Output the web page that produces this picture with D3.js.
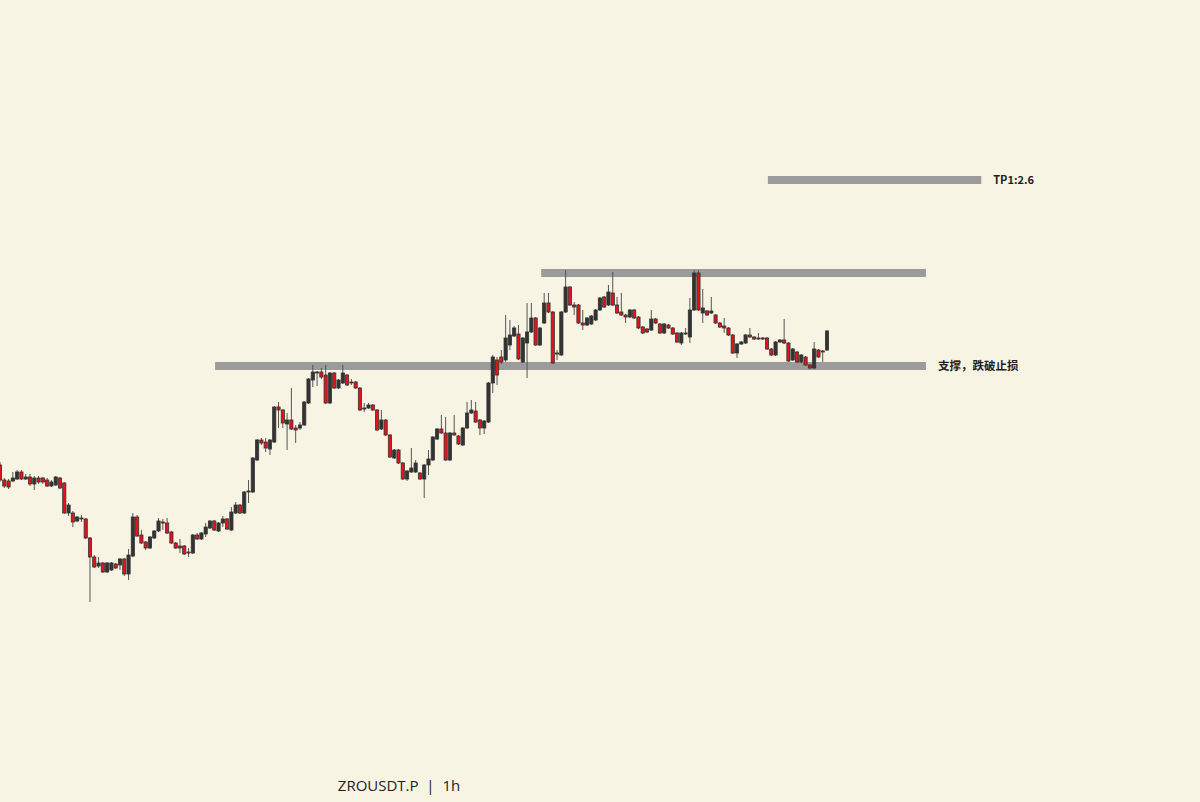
<!DOCTYPE html>
<html>
<head>
<meta charset="utf-8">
<script src="https://cdn.jsdelivr.net/npm/d3@7"></script>
<style>
  html, body { margin: 0; padding: 0; background: #f7f4e3; }
  svg { display: block; }
</style>
</head>
<body>
<svg id="chart"></svg>
<script>
// ZROUSDT.P 1h candles
const opens = [
  2.030, 2.000, 1.998, 1.998, 2.002, 2.016, 2.002, 2.006, 1.992, 2.004,
  2.004, 2.000, 1.988, 1.990, 2.004, 1.994, 1.934, 1.934, 1.918, 1.924,
  1.922, 1.884, 1.846, 1.828, 1.834, 1.816, 1.820, 1.832, 1.830, 1.842,
  1.812, 1.848, 1.926, 1.890, 1.876, 1.864, 1.884, 1.898, 1.916, 1.914,
  1.896, 1.874, 1.868, 1.868, 1.856, 1.854, 1.890, 1.882, 1.892, 1.904,
  1.918, 1.898, 1.914, 1.922, 1.900, 1.934, 1.950, 1.934, 1.976, 1.976,
  2.040, 2.080, 2.076, 2.062, 2.076, 2.146, 2.140, 2.112, 2.120, 2.104,
  2.104, 2.110, 2.154, 2.200, 2.216, 2.216, 2.210, 2.154, 2.214, 2.184,
  2.194, 2.210, 2.196, 2.196, 2.184, 2.144, 2.144, 2.150, 2.140, 2.102,
  2.120, 2.090, 2.044, 2.060, 2.034, 2.002, 2.016, 2.016, 2.014, 2.002,
  2.030, 2.040, 2.082, 2.102, 2.094, 2.040, 2.094, 2.088, 2.070, 2.104,
  2.134, 2.138, 2.120, 2.104, 2.116, 2.194, 2.240, 2.246, 2.240, 2.270,
  2.288, 2.292, 2.236, 2.274, 2.296, 2.324, 2.270, 2.314, 2.354, 2.336,
  2.254, 2.250, 2.336, 2.386, 2.350, 2.350, 2.314, 2.310, 2.312, 2.320,
  2.340, 2.366, 2.350, 2.374, 2.350, 2.336, 2.330, 2.326, 2.340, 2.326,
  2.306, 2.302, 2.300, 2.322, 2.312, 2.294, 2.310, 2.304, 2.294, 2.274,
  2.294, 2.286, 2.340, 2.414, 2.334, 2.338, 2.334, 2.330, 2.314, 2.308,
  2.304, 2.290, 2.254, 2.272, 2.274, 2.290, 2.286, 2.284, 2.284, 2.284,
  2.262, 2.250, 2.276, 2.280, 2.274, 2.240, 2.256, 2.236, 2.246, 2.230,
  2.224, 2.260, 2.258, 2.260
];
const highs = [
  2.036, 2.004, 2.002, 2.016, 2.020, 2.020, 2.012, 2.012, 2.008, 2.008,
  2.006, 2.004, 2.000, 2.008, 2.006, 1.996, 1.954, 1.938, 1.928, 1.930,
  1.924, 1.886, 1.850, 1.846, 1.836, 1.836, 1.836, 1.834, 1.844, 1.844,
  1.862, 1.934, 1.930, 1.900, 1.878, 1.888, 1.900, 1.924, 1.922, 1.924,
  1.898, 1.876, 1.882, 1.870, 1.864, 1.892, 1.894, 1.896, 1.914, 1.920,
  1.920, 1.916, 1.928, 1.924, 1.946, 1.956, 1.952, 1.978, 2.000, 2.046,
  2.082, 2.084, 2.084, 2.082, 2.148, 2.156, 2.142, 2.134, 2.184, 2.110,
  2.116, 2.158, 2.204, 2.230, 2.218, 2.224, 2.230, 2.216, 2.216, 2.202,
  2.230, 2.212, 2.202, 2.198, 2.186, 2.154, 2.154, 2.152, 2.142, 2.140,
  2.122, 2.092, 2.062, 2.062, 2.036, 2.020, 2.064, 2.040, 2.016, 2.032,
  2.060, 2.088, 2.104, 2.130, 2.126, 2.096, 2.130, 2.090, 2.106, 2.156,
  2.160, 2.156, 2.122, 2.120, 2.196, 2.250, 2.246, 2.260, 2.330, 2.320,
  2.308, 2.310, 2.286, 2.354, 2.354, 2.326, 2.306, 2.374, 2.374, 2.338,
  2.260, 2.338, 2.420, 2.388, 2.356, 2.352, 2.340, 2.326, 2.330, 2.342,
  2.366, 2.368, 2.390, 2.416, 2.366, 2.374, 2.332, 2.342, 2.342, 2.328,
  2.308, 2.304, 2.340, 2.324, 2.314, 2.314, 2.312, 2.306, 2.296, 2.296,
  2.304, 2.364, 2.420, 2.420, 2.382, 2.340, 2.366, 2.332, 2.316, 2.324,
  2.306, 2.292, 2.274, 2.278, 2.292, 2.304, 2.288, 2.294, 2.286, 2.286,
  2.264, 2.278, 2.282, 2.322, 2.276, 2.264, 2.258, 2.252, 2.248, 2.232,
  2.276, 2.262, 2.260, 2.300
];
const lows = [
  1.996, 1.984, 1.982, 1.996, 2.000, 2.000, 2.000, 1.988, 1.980, 1.992,
  1.992, 1.986, 1.986, 1.988, 1.982, 1.932, 1.928, 1.906, 1.916, 1.916,
  1.882, 1.756, 1.824, 1.824, 1.814, 1.814, 1.818, 1.822, 1.820, 1.808,
  1.800, 1.846, 1.886, 1.872, 1.860, 1.862, 1.882, 1.896, 1.900, 1.892,
  1.872, 1.862, 1.854, 1.850, 1.846, 1.852, 1.880, 1.880, 1.886, 1.902,
  1.898, 1.896, 1.906, 1.900, 1.898, 1.932, 1.932, 1.932, 1.954, 1.974,
  2.038, 2.070, 2.056, 2.050, 2.074, 2.104, 2.104, 2.060, 2.100, 2.074,
  2.100, 2.108, 2.152, 2.186, 2.188, 2.202, 2.152, 2.152, 2.182, 2.182,
  2.192, 2.188, 2.190, 2.182, 2.138, 2.136, 2.142, 2.138, 2.098, 2.100,
  2.088, 2.044, 2.042, 2.032, 2.000, 1.998, 2.014, 2.014, 2.000, 1.964,
  2.010, 2.038, 2.080, 2.092, 2.038, 2.038, 2.088, 2.070, 2.068, 2.102,
  2.132, 2.114, 2.090, 2.092, 2.114, 2.174, 2.190, 2.232, 2.236, 2.260,
  2.286, 2.240, 2.234, 2.204, 2.294, 2.268, 2.268, 2.312, 2.334, 2.232,
  2.240, 2.248, 2.334, 2.348, 2.330, 2.312, 2.300, 2.308, 2.310, 2.318,
  2.338, 2.344, 2.348, 2.348, 2.332, 2.328, 2.314, 2.324, 2.322, 2.302,
  2.292, 2.294, 2.298, 2.312, 2.292, 2.292, 2.302, 2.290, 2.274, 2.270,
  2.290, 2.274, 2.338, 2.338, 2.314, 2.328, 2.332, 2.312, 2.304, 2.294,
  2.288, 2.252, 2.244, 2.270, 2.272, 2.284, 2.280, 2.280, 2.280, 2.260,
  2.248, 2.248, 2.274, 2.272, 2.236, 2.238, 2.234, 2.234, 2.228, 2.222,
  2.222, 2.244, 2.236, 2.258
];
const closes = [
  2.000, 1.988, 1.986, 2.004, 2.016, 2.002, 2.006, 1.992, 2.004, 1.996,
  1.996, 1.988, 1.996, 2.006, 1.984, 1.934, 1.950, 1.916, 1.926, 1.922,
  1.884, 1.846, 1.826, 1.834, 1.816, 1.834, 1.834, 1.824, 1.842, 1.812,
  1.850, 1.926, 1.888, 1.874, 1.864, 1.886, 1.898, 1.918, 1.914, 1.894,
  1.874, 1.864, 1.864, 1.852, 1.854, 1.890, 1.882, 1.894, 1.906, 1.918,
  1.900, 1.914, 1.922, 1.902, 1.936, 1.950, 1.934, 1.976, 1.978, 2.044,
  2.080, 2.074, 2.064, 2.080, 2.146, 2.140, 2.114, 2.120, 2.102, 2.100,
  2.110, 2.156, 2.202, 2.216, 2.214, 2.206, 2.154, 2.214, 2.184, 2.200,
  2.214, 2.190, 2.194, 2.184, 2.140, 2.142, 2.150, 2.140, 2.100, 2.120,
  2.090, 2.046, 2.060, 2.034, 2.002, 2.018, 2.024, 2.034, 2.002, 2.030,
  2.042, 2.086, 2.102, 2.094, 2.040, 2.094, 2.090, 2.072, 2.104, 2.134,
  2.140, 2.116, 2.104, 2.118, 2.194, 2.246, 2.210, 2.236, 2.284, 2.290,
  2.304, 2.242, 2.284, 2.296, 2.324, 2.270, 2.304, 2.354, 2.336, 2.234,
  2.252, 2.336, 2.386, 2.350, 2.346, 2.314, 2.310, 2.324, 2.328, 2.340,
  2.364, 2.346, 2.376, 2.350, 2.334, 2.330, 2.326, 2.340, 2.324, 2.304,
  2.294, 2.296, 2.322, 2.314, 2.294, 2.312, 2.304, 2.292, 2.276, 2.294,
  2.292, 2.340, 2.414, 2.340, 2.344, 2.330, 2.338, 2.314, 2.306, 2.304,
  2.290, 2.254, 2.272, 2.276, 2.290, 2.286, 2.282, 2.282, 2.282, 2.262,
  2.250, 2.276, 2.280, 2.274, 2.238, 2.262, 2.236, 2.250, 2.230, 2.224,
  2.262, 2.246, 2.256, 2.298
];

// drawn levels: price, first and last bar index, label
const levelPrices = [2.60, 2.414, 2.228];
const levelStarts = [179.2, 126.3, 50.2];
const levelEnds = [229, 216.1, 216.1];
const levelLabels = ['TP1:2.6', '', '支撑，跌破止损'];

const chartTitle = 'ZROUSDT.P  |  1h';

class CandleChart {
  constructor(_config) {
    this.config = {
      parentElement: _config.parentElement,
      width: _config.width,
      height: _config.height,
    };
    this.initVis();
  }

  initVis() {
    const vis = this;
    const { parentElement, width, height } = vis.config;

    vis.svg = d3.select(parentElement)
      .attr('width', width)
      .attr('height', height);

    vis.svg.append('rect')
      .attr('width', width)
      .attr('height', height)
      .attr('fill', '#f7f4e3');

    // bar index -> pixel, price -> pixel
    vis.x = d3.scaleLinear().domain([0, opens.length - 1]).range([0, 827]);
    vis.y = d3.scaleLinear().domain([1.76, 2.60]).range([600, 180]);

    vis.levelG = vis.svg.append('g');
    vis.candleG = vis.svg.append('g');
    vis.textG = vis.svg.append('g');
  }

  updateVis() {
    const vis = this;
    vis.bars = opens.map((o, i) => ({
      i, o, h: highs[i], l: lows[i], c: closes[i],
    }));
    vis.levels = levelPrices.map((p, k) => ({
      p, from: levelStarts[k], to: levelEnds[k], label: levelLabels[k],
    }));
    vis.renderVis();
  }

  renderVis() {
    const vis = this;
    const { x, y } = vis;
    const bodyW = 3.2;

    vis.levelG.selectAll('line')
      .data(vis.levels)
      .join('line')
      .attr('x1', (d) => x(d.from))
      .attr('x2', (d) => x(d.to))
      .attr('y1', (d) => y(d.p))
      .attr('y2', (d) => y(d.p))
      .attr('stroke', '#9b9b9b')
      .attr('stroke-width', 8);

    const bar = vis.candleG.selectAll('g')
      .data(vis.bars)
      .join('g');

    bar.append('line')
      .attr('x1', (d) => x(d.i))
      .attr('x2', (d) => x(d.i))
      .attr('y1', (d) => y(d.h))
      .attr('y2', (d) => y(d.l))
      .attr('stroke', '#555')
      .attr('stroke-width', 1);

    bar.append('rect')
      .attr('x', (d) => x(d.i) - bodyW / 2)
      .attr('width', bodyW)
      .attr('y', (d) => y(Math.max(d.o, d.c)))
      .attr('height', (d) => Math.max(1, Math.abs(y(d.o) - y(d.c))))
      .attr('fill', (d) => (d.c < d.o ? '#e3121b' : '#333333'))
      .attr('stroke', '#333333')
      .attr('stroke-width', 0.8);

    vis.textG.selectAll('text.level')
      .data(vis.levels.filter((d) => d.label))
      .join('text')
      .attr('class', 'level')
      .attr('x', (d) => x(d.to) + 12)
      .attr('y', (d) => y(d.p))
      .attr('dy', '0.35em')
      .attr('font-family', "'Noto Sans CJK SC', 'DejaVu Sans', sans-serif")
      .attr('font-size', (d) => (d.p === 2.60 ? 11 : 11.5))
      .attr('font-weight', 600)
      .attr('fill', '#1e1e1e')
      .text((d) => d.label);

    vis.textG.append('text')
      .attr('x', 399)
      .attr('y', 786)
      .attr('dy', '0.35em')
      .attr('text-anchor', 'middle')
      .attr('font-family', "'Open Sans', 'Noto Sans', sans-serif")
      .attr('font-size', 15)
      .attr('fill', '#222')
      .style('white-space', 'pre')
      .text(chartTitle);
  }
}

const chart = new CandleChart({ parentElement: '#chart', width: 1200, height: 802 });
chart.updateVis();
</script>
</body>
</html>
